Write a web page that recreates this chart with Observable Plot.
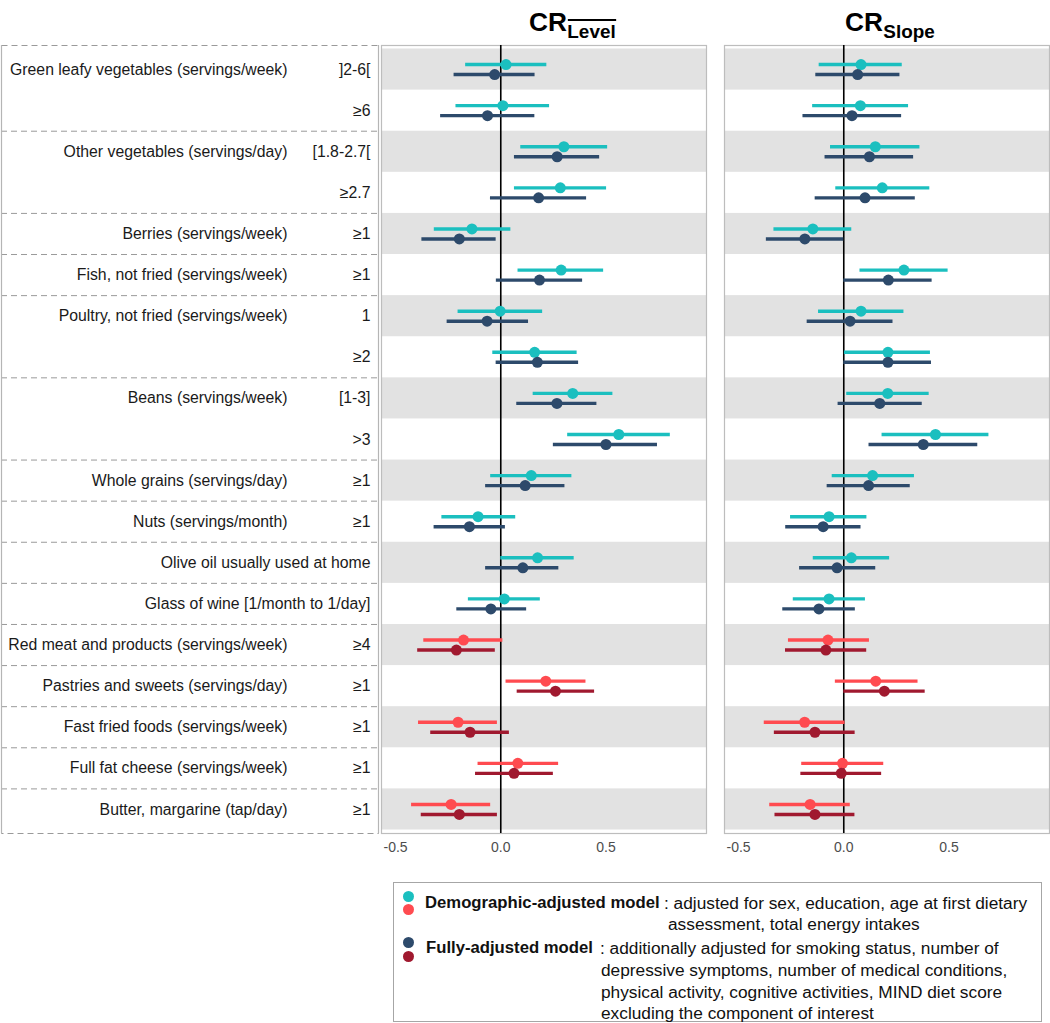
<!DOCTYPE html>
<html>
<head>
<meta charset="utf-8">
<script src="https://cdn.jsdelivr.net/npm/d3@7"></script>
<script src="https://cdn.jsdelivr.net/npm/@observablehq/plot@0.6"></script>
<style>
  html, body { margin: 0; padding: 0; background: #fff; overflow: hidden; }
  body { font-family: "Liberation Sans", Arial, sans-serif; }
  #root { position: relative; width: 1050px; height: 1023px; }
  .abs { position: absolute; }
  .title { position: absolute; top: 0; transform-origin: 0 0; transform: scaleX(1.05); white-space: nowrap; font-weight: bold; color: #000; }
  .title .cr { position: absolute; left: 0; top: 10px; font-size: 25px; line-height: 25px; }
  .title .sub { position: absolute; left: 36.5px; top: 22.5px; font-size: 18px; line-height: 18px; }
  .title .bar { position: absolute; left: 36.5px; top: 19px; width: 46px; border-top: 2px solid #000; }
  #legend { position: absolute; left: 393px; top: 882px; width: 647px; height: 138px; border: 1px solid #a6a6a6; }
  .lg { position: absolute; font-size: 17.3px; line-height: 20px; white-space: nowrap; color: #111; }
  .lg.b { font-weight: bold; font-size: 16.7px; }
  .mk { position: absolute; width: 11px; height: 11px; border-radius: 50%; }
</style>
</head>
<body>
<div id="root">
  <div class="title" style="left:529px"><span class="cr">CR</span><span class="bar"></span><span class="sub">Level</span></div>
  <div class="title" style="left:845px"><span class="cr">CR</span><span class="sub">Slope</span></div>
  <div id="labels" class="abs" style="left:0;top:0"></div>
  <div id="level" class="abs" style="left:376px;top:0"></div>
  <div id="slope" class="abs" style="left:719px;top:0"></div>
  <div id="legend"></div>
  <div class="mk" style="left:403px;top:891px;background:#1bbfbf"></div>
  <div class="mk" style="left:403px;top:904px;background:#ff4b50"></div>
  <div class="mk" style="left:403px;top:937px;background:#2d4a6b"></div>
  <div class="mk" style="left:403px;top:951px;background:#a0192f"></div>
  <div class="lg b" style="left:425px;top:893px">Demographic-adjusted model</div>
  <div class="lg" style="left:664px;top:893px">: adjusted for sex, education, age at first dietary</div>
  <div class="lg" style="left:668px;top:914px">assessment, total energy intakes</div>
  <div class="lg b" style="left:426px;top:938px">Fully-adjusted model</div>
  <div class="lg" style="left:600px;top:938px">: additionally adjusted for smoking status, number of</div>
  <div class="lg" style="left:601px;top:960px">depressive symptoms, number of medical conditions,</div>
  <div class="lg" style="left:601px;top:982px">physical activity, cognitive activities, MIND diet score</div>
  <div class="lg" style="left:601px;top:1003px">excluding the component of interest</div>
</div>
<script>
// ---------- data ----------
const rowGroups = [
  "Green leafy vegetables (servings/week)", "",
  "Other vegetables (servings/day)", "",
  "Berries (servings/week)",
  "Fish, not fried (servings/week)",
  "Poultry, not fried (servings/week)", "",
  "Beans (servings/week)", "",
  "Whole grains (servings/day)",
  "Nuts (servings/month)",
  "Olive oil usually used at home",
  "Glass of wine [1/month to 1/day]",
  "Red meat and products (servings/week)",
  "Pastries and sweets (servings/day)",
  "Fast fried foods (servings/week)",
  "Full fat cheese (servings/week)",
  "Butter, margarine (tap/day)"
];
const categories = ["]2-6[", "≥6", "[1.8-2.7[", "≥2.7", "≥1", "≥1", "1", "≥2", "[1-3]", ">3",
  "≥1", "≥1", "", "", "≥4", "≥1", "≥1", "≥1", "≥1"];
const componentType = ["healthy","healthy","healthy","healthy","healthy","healthy","healthy","healthy","healthy","healthy",
  "healthy","healthy","healthy","healthy","unhealthy","unhealthy","unhealthy","unhealthy","unhealthy"];

// CR Level — demographic-adjusted model
const levelDemoEst = [0.025, 0.010, 0.300, 0.283, -0.137, 0.287, -0.003, 0.161, 0.342, 0.561, 0.145, -0.108, 0.175, 0.017, -0.177, 0.214, -0.203, 0.081, -0.236];
const levelDemoLo  = [-0.167, -0.213, 0.095, 0.065, -0.316, 0.082, -0.203, -0.038, 0.154, 0.318, -0.048, -0.280, 0.000, -0.154, -0.366, 0.025, -0.391, -0.108, -0.424];
const levelDemoHi  = [0.219, 0.232, 0.508, 0.503, 0.048, 0.489, 0.199, 0.363, 0.533, 0.806, 0.338, 0.071, 0.349, 0.188, 0.010, 0.405, -0.016, 0.275, -0.048];
// CR Level — fully-adjusted model
const levelFullEst = [-0.029, -0.063, 0.268, 0.180, -0.197, 0.184, -0.065, 0.174, 0.267, 0.500, 0.116, -0.149, 0.105, -0.047, -0.211, 0.260, -0.146, 0.063, -0.197];
const levelFullLo  = [-0.222, -0.286, 0.065, -0.049, -0.375, -0.021, -0.255, -0.022, 0.076, 0.250, -0.072, -0.317, -0.072, -0.209, -0.395, 0.078, -0.333, -0.120, -0.378];
const levelFullHi  = [0.163, 0.162, 0.470, 0.408, -0.022, 0.389, 0.132, 0.370, 0.457, 0.745, 0.305, 0.022, 0.276, 0.123, -0.026, 0.446, 0.041, 0.250, -0.016];
// CR Slope — demographic-adjusted model
const slopeDemoEst = [0.082, 0.079, 0.150, 0.183, -0.147, 0.286, 0.082, 0.210, 0.209, 0.436, 0.137, -0.070, 0.036, -0.070, -0.075, 0.152, -0.186, -0.006, -0.160];
const slopeDemoLo  = [-0.117, -0.148, -0.063, -0.038, -0.332, 0.077, -0.120, 0.003, 0.014, 0.182, -0.055, -0.253, -0.145, -0.240, -0.263, -0.040, -0.378, -0.200, -0.352];
const slopeDemoHi  = [0.278, 0.308, 0.362, 0.409, 0.038, 0.496, 0.286, 0.412, 0.406, 0.690, 0.336, 0.110, 0.218, 0.103, 0.122, 0.353, 0.006, 0.190, 0.031];
// CR Slope — fully-adjusted model
const slopeFullEst = [0.066, 0.039, 0.122, 0.101, -0.185, 0.212, 0.030, 0.210, 0.171, 0.378, 0.118, -0.098, -0.032, -0.118, -0.085, 0.193, -0.137, -0.012, -0.137];
const slopeFullLo  = [-0.133, -0.194, -0.089, -0.136, -0.368, 0.000, -0.174, 0.000, -0.027, 0.120, -0.079, -0.276, -0.210, -0.290, -0.277, 0.000, -0.330, -0.204, -0.327];
const slopeFullHi  = [0.267, 0.275, 0.332, 0.340, 0.000, 0.420, 0.234, 0.417, 0.373, 0.637, 0.316, 0.082, 0.152, 0.055, 0.109, 0.387, 0.054, 0.180, 0.053];

const xTicks = [-0.5, 0, 0.5];

// ---------- styling ----------
const colors = {
  "demo-healthy": "#1bbfbf",
  "full-healthy": "#2d4a6b",
  "demo-unhealthy": "#ff4b50",
  "full-unhealthy": "#a0192f"
};
const FONT = '"Liberation Sans", Arial, sans-serif';
const H = 870, MT = 45, MB = 37;
const yScale = {domain: [-0.5, rowGroups.length - 0.5], reverse: true, axis: null, insetTop: 3.5, insetBottom: 3.5};

const rows = rowGroups.map((g, i) => ({i, group: g, cat: categories[i], type: componentType[i]}));

function series(est, lo, hi, model) {
  return rows.map((r, i) => ({i, est: est[i], lo: lo[i], hi: hi[i], model, type: r.type}));
}

// ---------- label column ----------
const boundaries = rows.filter(r => r.i > 0 && r.group !== "").map(r => ({b: r.i - 0.5}));
const labelPlot = Plot.plot({
  width: 380, height: H,
  marginTop: MT, marginBottom: MB, marginLeft: 1, marginRight: 2,
  x: {domain: [0, 1], axis: null},
  y: yScale,
  style: {background: "transparent", fontFamily: FONT, overflow: "visible"},
  marks: [
    Plot.frame({stroke: "#9a9a9a", strokeDasharray: "6,4"}),
    Plot.ruleY(boundaries, {y: d => d.b, stroke: "#9a9a9a", strokeDasharray: "6,4"}),
    Plot.ruleX([0, 1], {stroke: "#b5b5b5", strokeWidth: 1.2}),
    Plot.text(rows.filter(r => r.cat !== "" && r.group !== ""), {
      y: "i", text: "group", frameAnchor: "right", textAnchor: "end", dx: -91,
      fontSize: 15.8, fill: "#1a1a1a"
    }),
    Plot.text(rows.filter(r => r.cat !== "" || r.group !== ""), {
      y: "i", text: d => d.cat || d.group, frameAnchor: "right", textAnchor: "end", dx: -8,
      fontSize: 15.8, fill: "#1a1a1a"
    })
  ]
});
document.getElementById("labels").appendChild(labelPlot);

// ---------- forest panels ----------
function panel(demo, full) {
  return Plot.plot({
    width: 331, height: H,
    marginTop: MT, marginBottom: MB, marginLeft: 5, marginRight: 1,
    x: {domain: [-0.567, 0.978], ticks: xTicks, tickFormat: d => d.toFixed(1), tickSize: 0, tickPadding: 9, label: null},
    y: yScale,
    color: {type: "identity"},
    style: {background: "transparent", fontFamily: FONT, fontSize: "14px", color: "#4d4d4d", overflow: "visible"},
    marks: [
      Plot.rect(rows.filter(r => r.i % 2 === 0), {y1: d => d.i - 0.5, y2: d => d.i + 0.5, fill: "#e2e2e2"}),
      Plot.frame({stroke: "#bdbdbd", strokeWidth: 1.2}),
      Plot.ruleX([0], {stroke: "#000", strokeWidth: 1.6}),
      Plot.ruleY(demo, {y: "i", x1: "lo", x2: "hi", stroke: d => colors["demo-" + d.type], strokeWidth: 3.4, dy: -5}),
      Plot.ruleY(full, {y: "i", x1: "lo", x2: "hi", stroke: d => colors["full-" + d.type], strokeWidth: 3.4, dy: 5}),
      Plot.dot(demo, {y: "i", x: "est", r: 5.5, fill: d => colors["demo-" + d.type], dy: -5}),
      Plot.dot(full, {y: "i", x: "est", r: 5.5, fill: d => colors["full-" + d.type], dy: 5})
    ]
  });
}

document.getElementById("level").appendChild(panel(
  series(levelDemoEst, levelDemoLo, levelDemoHi, "demo"),
  series(levelFullEst, levelFullLo, levelFullHi, "full")
));
document.getElementById("slope").appendChild(panel(
  series(slopeDemoEst, slopeDemoLo, slopeDemoHi, "demo"),
  series(slopeFullEst, slopeFullLo, slopeFullHi, "full")
));
</script>
</body>
</html>
